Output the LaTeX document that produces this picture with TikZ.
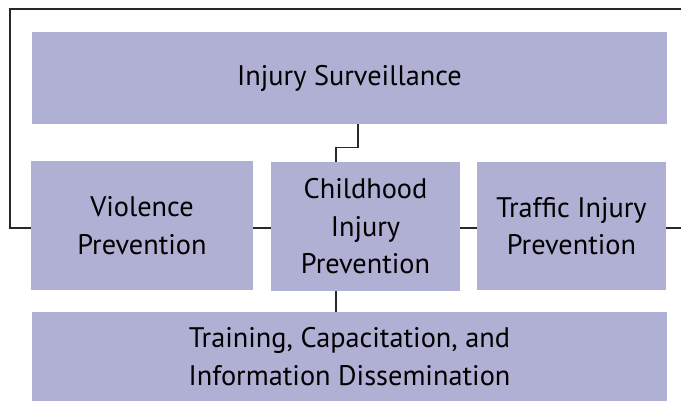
\documentclass[tikz,border=0pt]{standalone}
\usepackage{fontspec}
\setmainfont{PT Sans}
\definecolor{boxfill}{RGB}{176,176,212}
\definecolor{linec}{RGB}{40,40,40}
\begin{document}
\begin{tikzpicture}[x=1pt,y=-1pt,
  unitbox/.style={rectangle, fill=boxfill, draw=none, inner sep=0pt, align=center,
    font=\fontsize{28.3}{37.5}\selectfont, text=black},
  conn/.style={draw=linec, line width=1.2pt}]
\useasboundingbox (0,0) rectangle (681,402);
\node[unitbox, minimum width=635, minimum height=92] (surv) at (349.5,78) {Injury Surveillance};
\node[unitbox, minimum width=222, minimum height=129] (viol) at (142,225.5) {Violence\\Prevention};
\node[unitbox, minimum width=189, minimum height=129] (child) at (365.5,226.5) {Childhood\\Injury\\Prevention};
\node[unitbox, minimum width=189, minimum height=128] (traf) at (571.5,226) {Traffic Injury\\Prevention};
\node[unitbox, minimum width=635, minimum height=89] (train) at (349.5,356.5) {Training, Capacitation, and\\Information Dissemination};
\coordinate (fl) at (10,228);
\coordinate (ftl) at (10,9);
\coordinate (ftr) at (681,9);
\coordinate (fr) at (681,228);
\draw[conn] (viol.west |- fl) -- (fl) -- (ftl) -- (ftr);
\draw[conn] (traf.east |- fr) -- (fr);
\draw[conn] (viol.east |- fl) -- (child.west |- fl);
\draw[conn] (child.east |- fl) -- (traf.west |- fl);
\draw[conn] ([xshift=8.5pt]surv.south) -- ++(0,23) -| ([xshift=-29.5pt]child.north);
\draw[conn] ([xshift=-29.5pt]child.south) -- ([xshift=-29.5pt]child.south |- train.north);
\end{tikzpicture}
\end{document}
